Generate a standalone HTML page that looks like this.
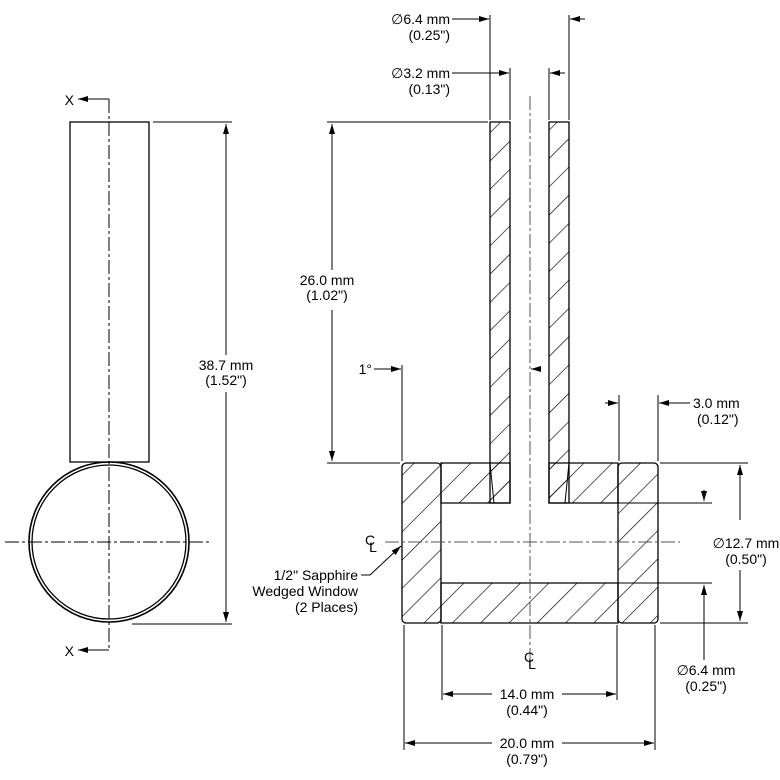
<!DOCTYPE html>
<html><head><style>
html,body{margin:0;padding:0;background:#fff;}
svg{display:block;}
text{font-family:"Liberation Sans",sans-serif;font-size:14px;fill:#000;}
</style></head><body>
<svg width="780" height="780" viewBox="0 0 780 780" xmlns="http://www.w3.org/2000/svg">
<defs>
<pattern id="h" patternUnits="userSpaceOnUse" width="20" height="20" patternTransform="rotate(45)">
<line x1="0" y1="0" x2="0" y2="20" stroke="#000" stroke-width="1.3"/>
</pattern>
<marker id="a" markerWidth="10" markerHeight="6" refX="10" refY="3" orient="auto" markerUnits="userSpaceOnUse">
<path d="M0,0 L10,3 L0,6 z" fill="#000"/>
</marker>
</defs>
<g stroke="#000" fill="none" stroke-width="1.3">
<rect x="70" y="122" width="79" height="340"/>
<circle cx="109" cy="542" r="80" stroke-width="1.6"/>
<circle cx="109" cy="542" r="77"/>
<line x1="109" y1="99" x2="109" y2="650" stroke-dasharray="14,3,3,3" stroke-width="1"/>
<line x1="5" y1="542" x2="212" y2="542" stroke-dasharray="14,3,3,3" stroke-width="1"/>
<polyline points="109,99 78,99" marker-end="url(#a)" stroke-width="1"/>
<polyline points="109,650 78,650" marker-end="url(#a)" stroke-width="1"/>
<line x1="153" y1="122" x2="232" y2="122" stroke-width="1"/>
<line x1="132" y1="624" x2="232" y2="624" stroke-width="1"/>
<line x1="226" y1="355" x2="226" y2="124" marker-end="url(#a)" stroke-width="1"/>
<line x1="226" y1="392" x2="226" y2="622" marker-end="url(#a)" stroke-width="1"/>

<g fill="url(#h)">
<path d="M490,122 H510 V503 H490 Z"/>
<path d="M549,122 H569 V503 H549 Z"/>
<path d="M441,463 H510 V503 H441 Z"/>
<path d="M549,463 H618 V503 H549 Z"/>
<path d="M441,583 H618 V623 H441 Z"/>
<rect x="402" y="463" width="39" height="160" rx="4"/>
<rect x="618" y="463" width="40" height="160" rx="4"/>
</g>
<line x1="490" y1="463" x2="494" y2="503" stroke-width="1"/>
<line x1="569" y1="463" x2="565" y2="503" stroke-width="1"/>
<line x1="530" y1="96" x2="530" y2="660" stroke-dasharray="14,3,3,3" stroke-width="1" stroke="#555"/>
<line x1="385" y1="542" x2="680" y2="542" stroke-dasharray="14,3,3,3" stroke-width="1" stroke="#555"/>

<g stroke-width="1">
<line x1="490" y1="15" x2="490" y2="120"/>
<line x1="569" y1="15" x2="569" y2="120"/>
<line x1="510" y1="68" x2="510" y2="120"/>
<line x1="549" y1="68" x2="549" y2="120"/>
<line x1="327" y1="122" x2="488" y2="122"/>
<line x1="327" y1="463" x2="400" y2="463"/>
<line x1="402" y1="365" x2="402" y2="461"/>
<line x1="619" y1="395" x2="619" y2="461"/>
<line x1="658" y1="395" x2="658" y2="461"/>
<line x1="660" y1="463" x2="748" y2="463"/>
<line x1="618" y1="503" x2="712" y2="503"/>
<line x1="618" y1="583" x2="712" y2="583"/>
<line x1="660" y1="623" x2="748" y2="623"/>
<line x1="442" y1="625" x2="442" y2="700"/>
<line x1="617" y1="625" x2="617" y2="700"/>
<line x1="404" y1="625" x2="404" y2="750"/>
<line x1="655" y1="625" x2="655" y2="750"/>
<line x1="452" y1="19" x2="489" y2="19" marker-end="url(#a)"/>
<line x1="585" y1="19" x2="570" y2="19" marker-end="url(#a)"/>
<line x1="452" y1="73" x2="509" y2="73" marker-end="url(#a)"/>
<line x1="565" y1="73" x2="550" y2="73" marker-end="url(#a)"/>
<line x1="332" y1="270" x2="332" y2="124" marker-end="url(#a)"/>
<line x1="332" y1="310" x2="332" y2="461" marker-end="url(#a)"/>
<line x1="374" y1="369" x2="401" y2="369" marker-end="url(#a)"/>
<line x1="605" y1="403" x2="618" y2="403" marker-end="url(#a)"/>
<line x1="690" y1="403" x2="659" y2="403" marker-end="url(#a)"/>
<line x1="540" y1="369" x2="531" y2="369" marker-end="url(#a)"/>
<line x1="740" y1="520" x2="740" y2="465" marker-end="url(#a)"/>
<line x1="740" y1="570" x2="740" y2="621" marker-end="url(#a)"/>
<line x1="704" y1="490" x2="704" y2="501" marker-end="url(#a)"/>
<line x1="704" y1="660" x2="704" y2="585" marker-end="url(#a)"/>
<line x1="492" y1="694" x2="443" y2="694" marker-end="url(#a)"/>
<line x1="562" y1="694" x2="616" y2="694" marker-end="url(#a)"/>
<line x1="492" y1="743" x2="405" y2="743" marker-end="url(#a)"/>
<line x1="562" y1="743" x2="654" y2="743" marker-end="url(#a)"/>
<polyline points="361,575 370,575 401,546" marker-end="url(#a)"/>
</g>
</g>
<g>
<text x="74" y="105" text-anchor="end">X</text>
<text x="74" y="656" text-anchor="end">X</text>
<text x="226" y="370" text-anchor="middle">38.7 mm</text>
<text x="226" y="385" text-anchor="middle">(1.52")</text>
<text x="327" y="285" text-anchor="middle">26.0 mm</text>
<text x="327" y="300" text-anchor="middle">(1.02")</text>
<text x="450" y="24" text-anchor="end">∅6.4 mm</text>
<text x="450" y="40" text-anchor="end">(0.25")</text>
<text x="450" y="78" text-anchor="end">∅3.2 mm</text>
<text x="450" y="94" text-anchor="end">(0.13")</text>
<text x="372" y="374" text-anchor="end">1°</text>
<text x="693" y="408">3.0 mm</text>
<text x="697" y="424">(0.12")</text>
<text x="746" y="548" text-anchor="middle">∅12.7 mm</text>
<text x="746" y="564" text-anchor="middle">(0.50")</text>
<text x="706" y="675" text-anchor="middle">∅6.4 mm</text>
<text x="706" y="691" text-anchor="middle">(0.25")</text>
<text x="527" y="699" text-anchor="middle">14.0 mm</text>
<text x="527" y="715" text-anchor="middle">(0.44")</text>
<text x="527" y="748" text-anchor="middle">20.0 mm</text>
<text x="527" y="764" text-anchor="middle">(0.79")</text>
<text x="358" y="580" text-anchor="end">1/2" Sapphire</text>
<text x="358" y="596" text-anchor="end">Wedged Window</text>
<text x="358" y="612" text-anchor="end">(2 Places)</text>
<text x="370" y="545" text-anchor="middle">C</text>
<text x="373" y="552" text-anchor="middle">L</text>
<text x="529" y="662" text-anchor="middle">C</text>
<text x="532" y="669" text-anchor="middle">L</text>
</g>
</svg>
</body></html>
